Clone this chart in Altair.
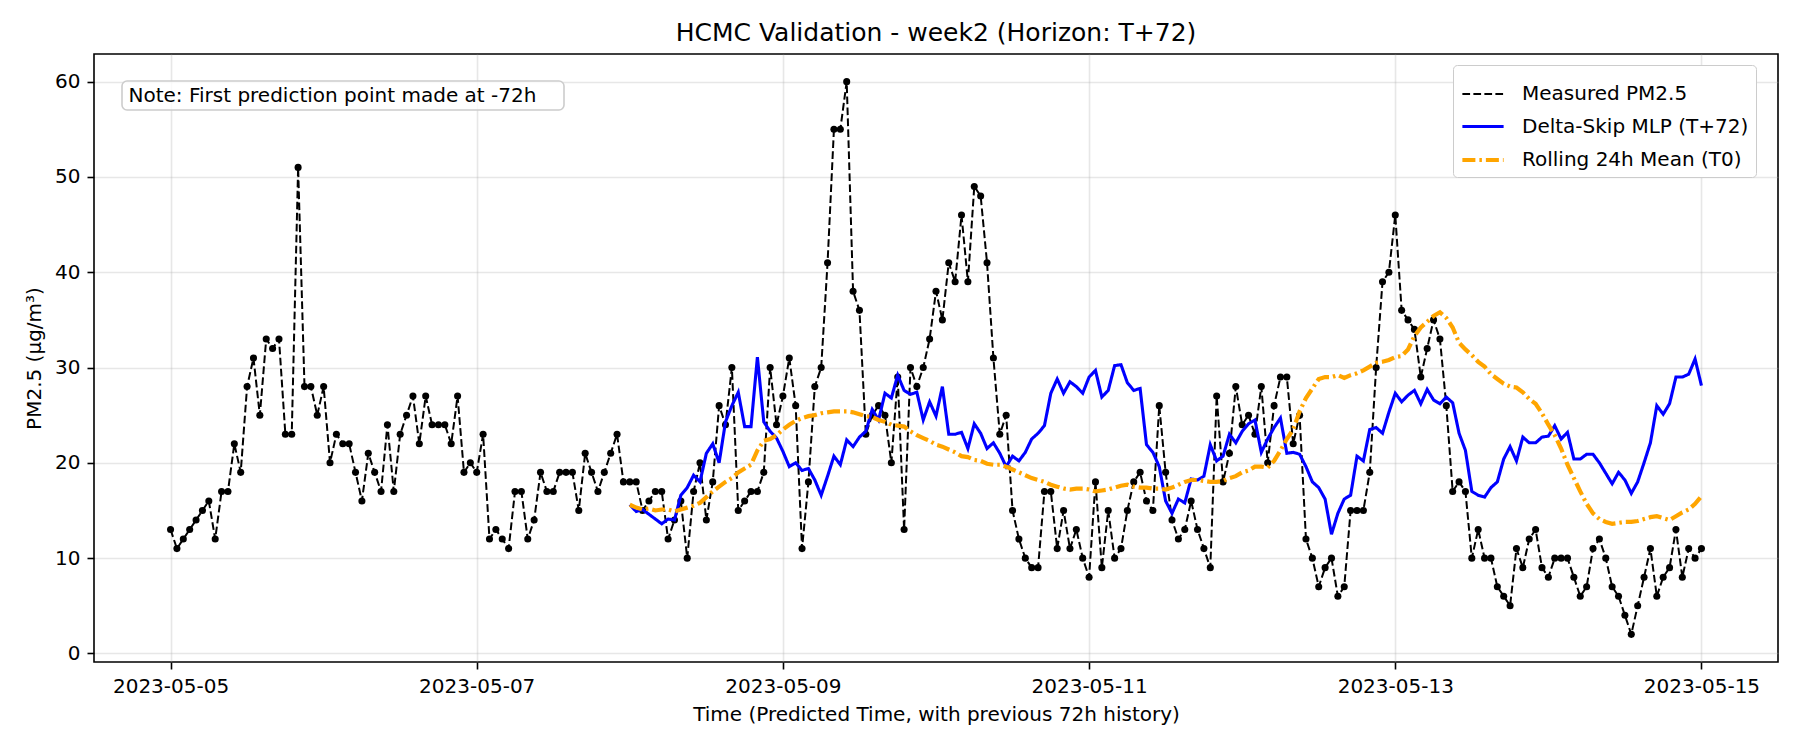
import altair as alt
import pandas as pd

START = "2023-05-05 00:00"
N_HOURS = 241  # hourly, 2023-05-05 00:00 .. 2023-05-15 00:00
PRED_START = 72  # first prediction index (2023-05-08 00:00)

measured = [
    13, 11, 12, 13, 14, 15, 16, 12, 17, 17, 22, 19, 28, 31, 25, 33, 32, 33, 23, 23, 51, 28, 28, 25, 28,
    20, 23, 22, 22, 19, 16, 21, 19, 17, 24, 17, 23, 25, 27, 22, 27, 24, 24, 24, 22, 27, 19, 20, 19,
    23, 12, 13, 12, 11, 17, 17, 12, 14, 19, 17, 17, 19, 19, 19, 15, 21, 19, 17, 19, 21, 23, 18, 18,
    18, 15, 16, 17, 17, 12, 14, 16, 10, 17, 20, 14, 18, 26, 24, 30, 15, 16, 17, 17, 19, 30, 24, 27,
    31, 26, 11, 18, 28, 30, 41, 55, 55, 60, 38, 36, 23, 25, 26, 25, 20, 29, 13, 30, 28, 30, 33, 38,
    35, 41, 39, 46, 39, 49, 48, 41, 31, 23, 25, 15, 12, 10, 9, 9, 17, 17, 11, 15, 11, 13, 10, 8,
    18, 9, 15, 10, 11, 15, 18, 19, 16, 15, 26, 19, 14, 12, 13, 16, 13, 11, 9, 27, 18, 21, 28, 24,
    25, 23, 28, 20, 26, 29, 29, 22, 25, 12, 10, 7, 9, 10, 6, 7, 15, 15, 15, 19, 30, 39, 40, 46,
    36, 35, 34, 29, 32, 35, 33, 26, 17, 18, 17, 10, 13, 10, 10, 7, 6, 5, 11, 9, 12, 13, 9, 8,
    10, 10, 10, 8, 6, 7, 11, 12, 10, 7, 6, 4, 2, 5, 8, 11, 6, 8, 9, 13, 8, 11, 10, 11,
]

mlp_pred = [
    15.6, 14.9, 15.1, 14.6, 14.1, 13.6, 14.1, 14.0, 16.6, 17.4, 18.7, 18.0, 21.0, 22.0, 20.0, 24.3,
    26.0, 27.4, 23.8, 23.8, 31.1, 24.3, 23.3, 22.6, 21.2,
    19.6, 20.0, 19.2, 19.4, 18.2, 16.6, 18.6, 20.7, 19.8, 22.4, 21.7, 22.7, 23.3, 25.6, 24.5, 27.3,
    26.8, 29.2, 27.6, 27.2, 27.4, 24.5, 26.4, 24.9,
    28.0, 23.0, 23.0, 23.2, 21.5, 24.1, 23.1, 21.5, 22.1, 21.0, 19.6, 20.7, 20.2, 21.1, 22.5, 23.1,
    23.9, 27.3, 28.8, 27.3, 28.5, 28.0, 27.3, 29.0,
    29.7, 26.9, 27.6, 30.2, 30.3, 28.4, 27.6, 27.8, 21.9, 21.1, 19.6, 16.0, 14.7, 16.2, 15.8, 18.3,
    18.2, 18.6, 21.9, 20.2, 20.7, 23.0, 22.1, 23.3,
    24.1, 24.5, 21.1, 22.5, 23.7, 24.7, 21.0, 21.1, 20.9, 19.6, 18.0, 17.4, 16.2, 12.5, 14.7, 16.2,
    16.6, 20.7, 20.2, 23.5, 23.7, 23.1, 25.3, 27.3,
    26.4, 27.1, 27.6, 26.2, 27.7, 26.6, 26.2, 26.9, 26.3, 23.1, 21.3, 17.0, 16.6, 16.4, 17.4, 18.0,
    20.4, 21.7, 20.2, 22.7, 22.1, 22.1, 22.7, 22.8,
    23.9, 22.5, 23.2, 20.4, 20.4, 20.9, 20.9, 20.0, 18.9, 17.8, 19.0, 18.2, 16.8, 18.0, 20.0, 22.1,
    26.0, 25.1, 26.2, 29.0, 29.0, 29.3, 30.9, 28.1,
]

rolling_mean = [
    15.6, 15.3, 15.1, 15.2, 15.0, 15.1, 15.1, 14.9, 15.1, 15.3, 15.5, 15.8, 16.4, 17.0, 17.5, 18.0,
    18.4, 19.0, 19.4, 19.8, 21.3, 22.3, 22.5, 22.9, 23.5,
    24.0, 24.4, 24.7, 24.9, 25.0, 25.2, 25.3, 25.4, 25.4, 25.4, 25.3, 25.1, 24.9, 24.8, 24.5, 24.3,
    24.0, 23.9, 23.8, 23.3, 22.9, 22.6, 22.3, 21.9,
    21.7, 21.4, 21.1, 20.7, 20.6, 20.3, 20.2, 19.9, 19.8, 19.8, 19.6, 19.3, 19.0, 18.7, 18.4, 18.2,
    18.0, 17.7, 17.5, 17.3, 17.2, 17.3, 17.3, 17.2,
    17.0, 17.1, 17.2, 17.4, 17.6, 17.7, 17.5, 17.4, 17.4, 17.3, 17.3, 17.2, 17.4, 17.7, 18.0, 18.2,
    18.2, 18.1, 18.0, 18.0, 18.1, 18.4, 18.6, 19.0,
    19.2, 19.6, 19.6, 19.5, 20.2, 21.3, 22.5, 23.5, 25.4, 26.8, 27.8, 28.8, 29.0, 29.0, 29.2, 28.9,
    29.2, 29.4, 29.7, 30.1, 30.5, 30.6, 30.8, 31.1,
    31.2, 31.9, 33.3, 34.2, 34.8, 35.4, 35.8, 35.2, 34.2, 32.6, 31.9, 31.3, 30.6, 30.1, 29.3, 28.8,
    28.3, 28.0, 27.9, 27.4, 26.7, 26.2, 25.2, 24.0,
    22.9, 21.5, 19.8, 18.4, 17.0, 15.7, 14.7, 14.1, 13.8, 13.6, 13.7, 13.8, 13.8, 13.9, 14.1, 14.3,
    14.4, 14.2, 14.0, 14.4, 14.8, 15.1, 15.7, 16.5,
]

series_names = ["Measured PM2.5", "Delta-Skip MLP (T+72)", "Rolling 24h Mean (T0)"]
series_colors = ["black", "#0000ff", "orange"]
series_dash = [[7.7, 3.3], [1, 0], [13, 4, 2.5, 4]]
series_widths = [2.0, 4.2, 2.6]

x_tick_days = [5, 7, 9, 11, 13, 15]
y_ticks = [0, 10, 20, 30, 40, 50, 60]

TITLE = "HCMC Validation - week2 (Horizon: T+72)"
X_TITLE = "Time (Predicted Time, with previous 72h history)"
Y_TITLE = "PM2.5 (µg/m³)"
NOTE = "Note: First prediction point made at -72h"

times = pd.date_range(START, periods=N_HOURS, freq="h")
pred_times = times[PRED_START:]

df = pd.concat([
    pd.DataFrame({"time": times, "value": measured, "series": series_names[0]}),
    pd.DataFrame({"time": pred_times, "value": mlp_pred, "series": series_names[1]}),
    pd.DataFrame({"time": pred_times, "value": rolling_mean, "series": series_names[2]}),
], ignore_index=True)

FONT = "DejaVu Sans"

x_enc = alt.X(
    "time:T",
    scale=alt.Scale(domain=[alt.DateTime(year=2023, month=5, date=4, hours=12),
                            alt.DateTime(year=2023, month=5, date=15, hours=12)]),
    axis=alt.Axis(values=[alt.DateTime(year=2023, month=5, date=d) for d in x_tick_days],
                  format="%Y-%m-%d", title=X_TITLE, labelAngle=0, labelFlush=False,
                  labelOverlap=False, titlePadding=8),
)
y_enc = alt.Y(
    "value:Q",
    scale=alt.Scale(domain=[-0.9, 62.9], nice=False, zero=False),
    axis=alt.Axis(values=y_ticks, title=Y_TITLE, titlePadding=10),
)

color_enc = alt.Color(
    "series:N",
    scale=alt.Scale(domain=series_names, range=series_colors),
    legend=alt.Legend(title=None, orient="none", legendX=1359, legendY=11,
                      symbolType="stroke", symbolSize=1700, rowPadding=-13,
                      labelFontSize=20, labelFont=FONT, labelColor="black",
                      padding=7, labelOffset=16, fillColor="white",
                      strokeColor="#cccccc", cornerRadius=4, labelLimit=400,
                      symbolLimit=10),
)
dash_enc = alt.StrokeDash("series:N", scale=alt.Scale(domain=series_names, range=series_dash))
width_enc = alt.StrokeWidth("series:N", scale=alt.Scale(domain=series_names, range=series_widths))

base = alt.Chart(df)


def line_layer(name):
    return base.transform_filter(alt.datum.series == name).mark_line().encode(
        x=x_enc, y=y_enc, color=color_enc, strokeDash=dash_enc, strokeWidth=width_enc,
        order="time:T",
    )


points = base.transform_filter(alt.datum.series == series_names[0]).mark_point(
    filled=True, shape="circle", size=50, opacity=1
).encode(x=x_enc, y=y_enc, color=alt.value("black"))

note_df = pd.DataFrame({"note": [NOTE]})
note_box = alt.Chart(note_df).mark_rect(
    fill="white", fillOpacity=0.8, stroke="#cccccc", strokeWidth=1.6, cornerRadius=5
).encode(x=alt.value(28), x2=alt.value(470), y=alt.value(27), y2=alt.value(56))
note_text = alt.Chart(note_df).mark_text(
    align="left", baseline="middle", font=FONT, fontSize=20, color="black"
).encode(x=alt.value(34.5), y=alt.value(42), text="note:N")

chart = alt.layer(
    line_layer(series_names[0]),
    points,
    line_layer(series_names[1]),
    line_layer(series_names[2]),
    note_box,
    note_text,
).properties(
    width=1684,
    height=608,
    title=alt.TitleParams(TITLE, fontSize=25, font=FONT, fontWeight="normal",
                          anchor="middle", offset=8, color="black"),
    padding={"left": 94, "top": 54, "right": 22, "bottom": 88},
    autosize="none",
).configure_view(
    stroke="black", strokeWidth=1.6
).configure_axis(
    domain=False, tickColor="black", tickWidth=1.6, tickSize=7,
    labelFontSize=20, labelFont=FONT, labelColor="black", labelPadding=7,
    titleFontSize=20, titleFont=FONT, titleFontWeight="normal", titleColor="black",
    gridColor="#b0b0b0", gridOpacity=0.3, gridWidth=1.6,
)

chart.save("out.html", embed_options={"renderer": "svg", "actions": False})
